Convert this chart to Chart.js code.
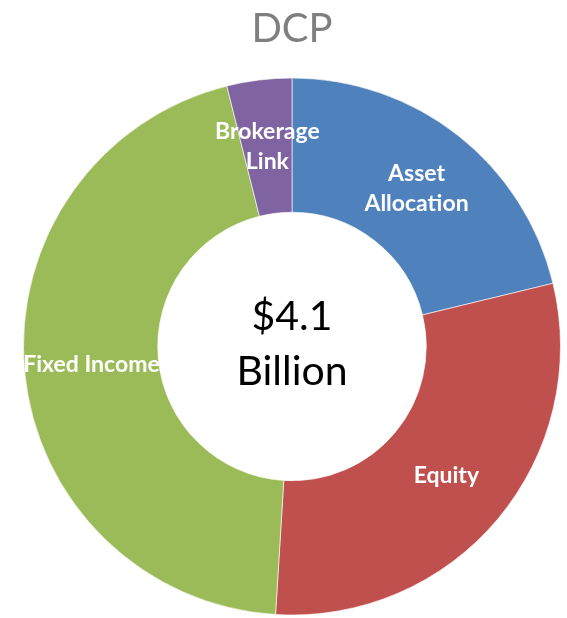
<!doctype html>
<html lang="en">
<head>
  <meta charset="utf-8">
  <title>DCP</title>
  <style>
    html, body { margin: 0; padding: 0; background: #fff; }
    #chart { display: block; }
  </style>
</head>
<body>
  <canvas id="chart" width="567" height="618"></canvas>

  <script src="https://cdn.jsdelivr.net/npm/chart.js@4/dist/chart.umd.min.js"></script>
  <script>
  // DCP assets, $ billions
  const categories = ['Asset Allocation', 'Equity', 'Fixed Income', 'Brokerage Link'];
  const labelLines = [['Asset', 'Allocation'], ['Equity'], ['Fixed Income'], ['Brokerage', 'Link']];
  const values = [0.87, 1.22, 1.85, 0.16];
  const colors = ['#4F81BD', '#C0504D', '#9BBB59', '#8064A2'];
  const title = 'DCP';
  const centerLines = ['$4.1', 'Billion'];

  const textPlugin = {
    id: 'texts',
    afterDraw(chart) {
      const ctx = chart.ctx;
      const meta = chart.getDatasetMeta(0);
      const arc0 = meta.data[0];
      const cx = arc0.x, cy = arc0.y;

      ctx.save();
      ctx.textAlign = 'center';

      // title
      ctx.fillStyle = '#7F7F7F';
      ctx.font = '40px Lato';
      ctx.textBaseline = 'alphabetic';
      ctx.fillText(title, cx, 42);

      // center
      ctx.fillStyle = '#000';
      ctx.font = '41px Lato';
      ctx.fillText(centerLines[0], cx, cy - 16.5);
      ctx.fillText(centerLines[1], cx, cy + 38.5);

      // slice labels
      ctx.fillStyle = '#fff';
      ctx.font = 'bold 23px Lato';
      ctx.textBaseline = 'middle';
      meta.data.forEach((arc, i) => {
        const p = arc.tooltipPosition();
        const lines = labelLines[i];
        const lh = 30;
        lines.forEach((t, j) => {
          ctx.fillText(t, p.x, p.y + (j - (lines.length - 1) / 2) * lh);
        });
      });
      ctx.restore();
    }
  };

  new Chart(document.getElementById('chart'), {
    type: 'doughnut',
    data: {
      labels: categories,
      datasets: [{
        data: values,
        backgroundColor: colors,
        borderColor: 'rgba(255,255,255,0.6)',
        borderWidth: 1
      }]
    },
    options: {
      responsive: false,
      animation: false,
      cutout: '50%',
      layout: { padding: { left: 23, right: 6, top: 77.5, bottom: 2.5 } },
      plugins: {
        legend: { display: false },
        tooltip: { enabled: false }
      }
    },
    plugins: [textPlugin]
  });
  </script>
</body>
</html>
